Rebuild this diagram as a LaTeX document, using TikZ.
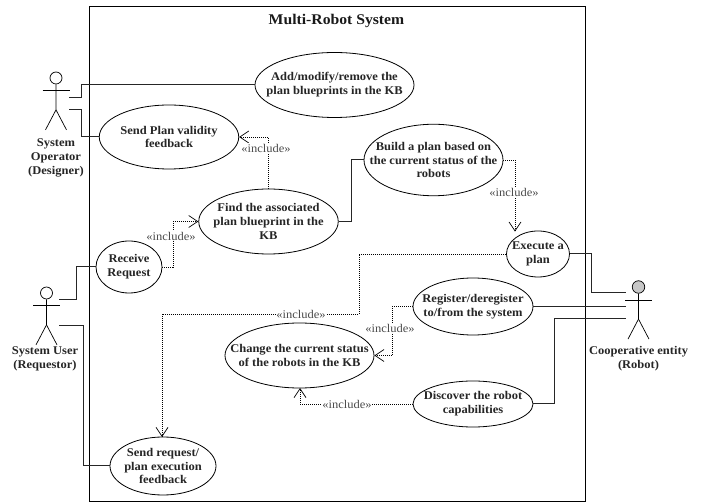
\documentclass[tikz,border=0pt]{standalone}
\usepackage{fontspec}
\setmainfont{Liberation Serif}[FakeStretch=1.06]
\usetikzlibrary{shapes.geometric,arrows.meta}
\tikzset{
  usecase/.style={ellipse,draw=black,line width=0.8pt,fill=white,inner sep=0pt},
  uctext/.style={align=center,inner sep=0pt,font=\fontsize{11.8}{13.9}\selectfont\bfseries,text=black!85},
  actorname/.style={uctext},
  incl/.style={fill=white,inner sep=0.8pt,font=\fontsize{11.8}{13}\selectfont,text=black!70},
  assoc/.style={line width=1pt,black!85},
  dep/.style={line width=0.9pt,black,dash pattern=on 1pt off 1pt},
  deparrow/.style={dep,-{Straight Barb[length=9pt,width=12pt,line width=0.7pt]}},
  stick/.style={line width=0.7pt,black},
  head/.style={circle,draw=black,line width=0.7pt,inner sep=0pt,minimum size=#1},
}
\newcommand{\actorbody}[1]{%
  \draw[stick] (#1.south) -- ++(0,25.5) coordinate (#1hip) -- ++(-10.5,20);
  \draw[stick] (#1hip) -- ++(10.5,20);
  \draw[stick] (#1.south) ++(-13.5,6.5) -- ++(27,0);
}
% name, position, width, height, text
\newcommand{\ucase}[5]{%
  \node[usecase,minimum width=#3pt,minimum height=#4pt] (#1) at (#2) {};
  \node[uctext] (#1t) at (#1.center) {#5};
}
\begin{document}
\begin{tikzpicture}[x=1pt,y=-1pt]
\useasboundingbox (0,0) rectangle (702,502);
\node[draw=black,line width=0.9pt,minimum width=495.5pt,minimum height=494.5pt,inner sep=0pt] (frame) at (337.25,253.75) {};
\node[font=\fontsize{14.8}{16}\selectfont\bfseries,text=black!90,inner sep=0pt] (title) at (336.5,21) {Multi-Robot System};

% actors
\node[head=12pt] (op) at (56,78) {};
\actorbody{op}
\node[head=12pt] (us) at (46.5,293) {};
\actorbody{us}
\node[head=12.5pt,fill=black!22] (ro) at (638.5,287) {};
\actorbody{ro}
\node[actorname] (opl) at (56,157.5) {System\\Operator\\(Designer)};
\node[actorname] (usl) at (45,359) {System User\\(Requestor)};
\node[actorname] (rol) at (638.5,359) {Cooperative entity\\(Robot)};

% use cases
\ucase{add}{334.5,85}{159}{65}{Add/modify/remove the\\plan blueprints in the KB}
\ucase{val}{169,137}{139.5}{64}{Send Plan validity\\feedback}
\ucase{find}{268.5,221.5}{139.5}{65}{Find the associated\\plan blueprint in the\\KB}
\ucase{build}{433.5,160}{139}{71.5}{Build a plan based on\\the current status of the\\robots}
\ucase{exec}{538,254}{63}{46}{Execute a\\plan}
\ucase{recv}{129,267}{66}{52}{Receive\\Request}
\ucase{reg}{473,306.5}{120}{57}{Register/deregister\\to/from the system}
\ucase{chg}{299.5,355.5}{149}{65}{Change the current status\\of the robots in the KB}
\ucase{disc}{473,404}{120}{46}{Discover the robot\\capabilities}
\ucase{send}{163,466}{106}{58}{Send request/\\plan execution\\feedback}

% free ends at actors
\coordinate (o1) at (69,98);
\coordinate (o2) at (69,110);
\coordinate (u1) at (59,300);
\coordinate (u2) at (59,326);
\coordinate (r1) at (626,293);
\coordinate (r2) at (626,306.5);
\coordinate (r3) at (626,319);

% associations
\draw[assoc] (o1) -- (81,98) |- (add.west);
\draw[assoc] (o2) -- (81,110) |- (val.west);
\draw[assoc] (u1) -- (76,300) |- (recv.west);
\draw[assoc] (u2) -- (83,326) |- (send.west);
\draw[assoc] (find.east) -- (351,221.5) |- (build.west);
\draw[assoc] (exec.east) -- (591,254) |- (r1);
\draw[assoc] (reg.east) -- (r2);
\draw[assoc] (disc.east) -- (554.5,404) |- (r3);

% includes
\draw[deparrow] (find.north) -- (268.5,137) -- (val.east);
\node[incl] (il1) at (266,148) {«include»};
\draw[deparrow] (recv.east) -- (173,267) |- (find.west);
\node[incl] (il2) at (171,236) {«include»};
\draw[deparrow] (build.east) -- (515,160) -- (515,231.6);
\node[incl] (il3) at (514,192) {«include»};
\draw[deparrow] (exec.west) -- (359,254) -- (359,314) -- (162,314) -- (162,437);
\node[incl] (il4) at (301,314) {«include»};
\draw[deparrow] (reg.west) -- (392,306.5) |- (chg.east);
\node[incl] (il5) at (390,328) {«include»};
\draw[deparrow] (disc.west) -- (300,404) -- (300,388);
\node[incl] (il6) at (347,404) {«include»};
\end{tikzpicture}
\end{document}
